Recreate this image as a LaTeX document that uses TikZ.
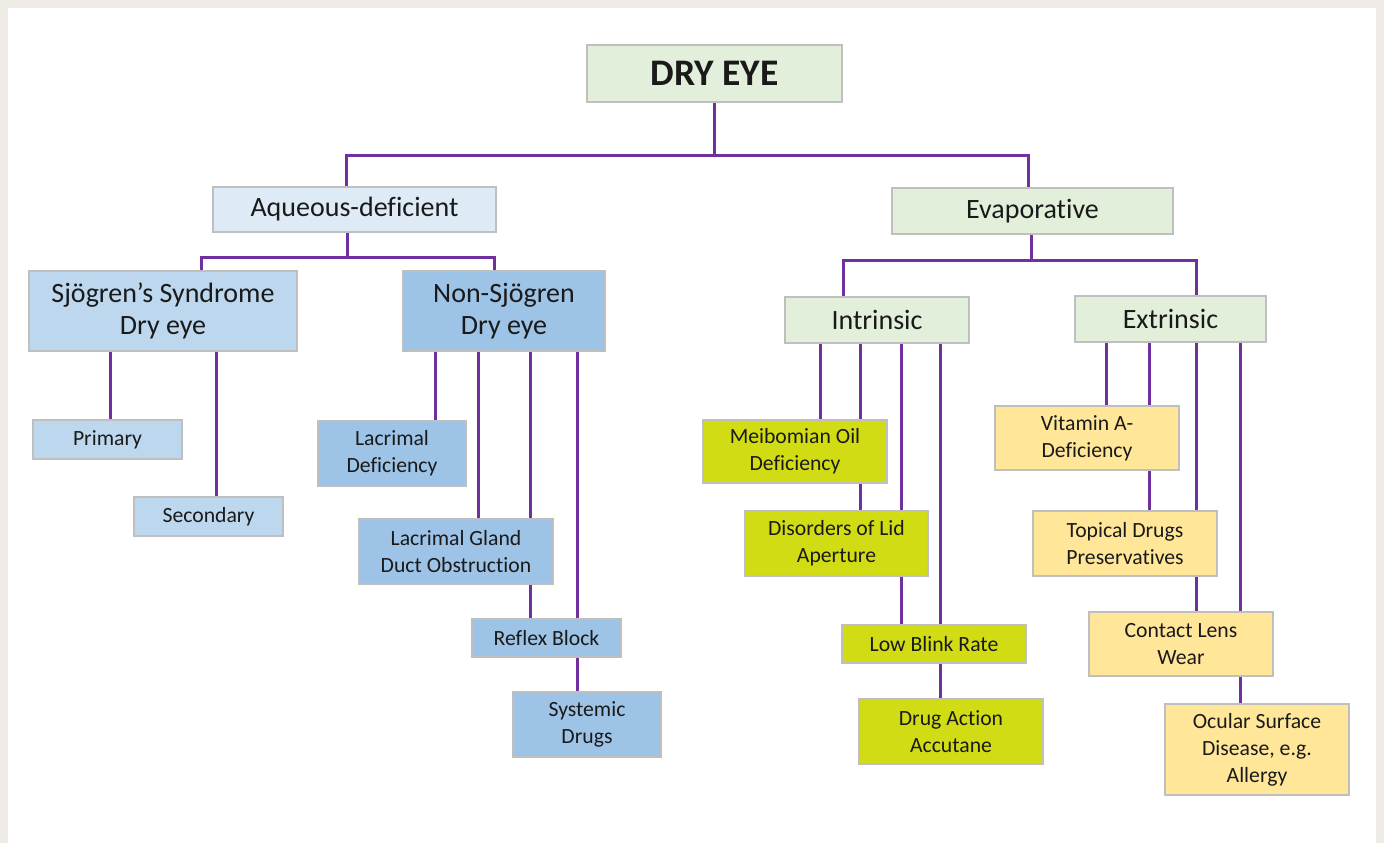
\documentclass[tikz,border=0pt]{standalone}
\usepackage{fontspec}
\setmainfont{Carlito}[Ligatures={NoCommon}]
\usepackage{tikz}
\usetikzlibrary{positioning,backgrounds}

\definecolor{framebg}{HTML}{EEEAE4}
\definecolor{boxline}{HTML}{BFBFBF}
\definecolor{linkpurple}{HTML}{7030A0}
\definecolor{palegreen}{HTML}{E2EFDA}
\definecolor{paleblue}{HTML}{DEEBF7}
\definecolor{midblue}{HTML}{BDD7EE}
\definecolor{deepblue}{HTML}{9DC3E6}
\definecolor{limefill}{HTML}{D2DC14}
\definecolor{peachfill}{HTML}{FFE699}
\definecolor{inkdark}{HTML}{1A1A1A}

\begin{document}
\begin{tikzpicture}[x=1pt,y=-1pt,
    box/.style={draw=boxline, line width=1.5pt, align=center, inner sep=0pt, text=inkdark},
    bigbox/.style={box, font=\fontsize{28}{32.5}\selectfont},
    leafbox/.style={box, font=\fontsize{21.7}{27}\selectfont},
    link/.style={draw=linkpurple, line width=3pt}]
                \useasboundingbox (0,0) rectangle (1384,843);

                \node [box, fill=palegreen, minimum width=255, minimum height=57, font=\fontsize{37.5}{42}\selectfont\bfseries] (dry) at (714.5,73.5) {DRY EYE};

                \node [bigbox, fill=paleblue,  minimum width=283, minimum height=45] (aq)     at (354.5,209.5) {Aqueous-deficient};
                \node [bigbox, fill=palegreen, minimum width=281, minimum height=46] (evap)   at (1032.5,211)  {Evaporative};
                \node [bigbox, fill=midblue,   minimum width=268, minimum height=80] (sjo)    at (163,311)     {Sjögren’s Syndrome\\Dry eye};
                \node [bigbox, fill=deepblue,  minimum width=202, minimum height=80] (nonsjo) at (504,311)     {Non-Sjögren\\Dry eye};
                \node [bigbox, fill=palegreen, minimum width=184, minimum height=46] (intr)   at (877,320)     {Intrinsic};
                \node [bigbox, fill=palegreen, minimum width=191, minimum height=46] (extr)   at (1170.5,319)  {Extrinsic};

                \node [leafbox, fill=midblue,  minimum width=149, minimum height=39] (prim)     at (107.5,439.5) {Primary};
                \node [leafbox, fill=midblue,  minimum width=149, minimum height=39] (sec)      at (208.5,516.5) {Secondary};
                \node [leafbox, fill=deepblue, minimum width=148, minimum height=65] (lacdef)   at (392,453.5)   {Lacrimal\\Deficiency};
                \node [leafbox, fill=deepblue, minimum width=194, minimum height=65] (lacgland) at (456,551.5)   {Lacrimal Gland\\Duct Obstruction};
                \node [leafbox, fill=deepblue, minimum width=149, minimum height=38] (reflex)   at (546.5,638)   {Reflex Block};
                \node [leafbox, fill=deepblue, minimum width=148, minimum height=65] (sysdrug)  at (587,724.5)   {Systemic\\Drugs};

                \node [leafbox, fill=limefill, minimum width=184, minimum height=63] (meib)   at (795,451.5) {Meibomian Oil\\Deficiency};
                \node [leafbox, fill=limefill, minimum width=183, minimum height=65] (lid)    at (836.5,543.5) {Disorders of Lid\\Aperture};
                \node [leafbox, fill=limefill, minimum width=184, minimum height=38] (blink)  at (934,644)   {Low Blink Rate};
                \node [leafbox, fill=limefill, minimum width=184, minimum height=65] (accut)  at (951,731.5) {Drug Action\\Accutane};

                \node [leafbox, fill=peachfill, minimum width=184, minimum height=64] (vita)   at (1087,438)    {Vitamin A-\\Deficiency};
                \node [leafbox, fill=peachfill, minimum width=184, minimum height=65] (topic)  at (1125,543.5)  {Topical Drugs\\Preservatives};
                \node [leafbox, fill=peachfill, minimum width=184, minimum height=64] (lens)   at (1181,644)    {Contact Lens\\Wear};
                \node [leafbox, fill=peachfill, minimum width=184, minimum height=91] (ocular) at (1257,749.5)  {Ocular Surface\\Disease, e.g.\\Allergy};

                \begin{scope}[on background layer]
                    \fill [framebg] (0,0) rectangle (1384,843);
                    \fill [white] (8,8) rectangle (1376,843);

                    \draw [link] (dry.south) -- ++(0,53) coordinate (hub);
                    \draw [link] (346,0 |- aq.north) |- (hub) -| (1028,0 |- evap.north);

                    \draw [link] (aq.south -| 347,0) -- ++(0,25) coordinate (aqhub);
                    \draw [link] (201,0 |- sjo.north) |- (aqhub) -| (494,0 |- nonsjo.north);

                    \draw [link] (evap.south -| 1031,0) -- ++(0,26) coordinate (evhub);
                    \draw [link] (843,0 |- intr.north) |- (evhub) -| (1196,0 |- extr.north);

                    \foreach \x/\leaf in {110/prim,216/sec}{%
                        \draw [link] (\x,0 |- sjo.south) -- (\x,0 |- \leaf.north);
                    }
                    \foreach \x/\leaf in {435/lacdef,478/lacgland,530/reflex,577/sysdrug}{%
                        \draw [link] (\x,0 |- nonsjo.south) -- (\x,0 |- \leaf.north);
                    }
                    \foreach \x/\leaf in {820/meib,860/lid,901/blink,940/accut}{%
                        \draw [link] (\x,0 |- intr.south) -- (\x,0 |- \leaf.north);
                    }
                    \foreach \x/\leaf in {1106/vita,1149/topic,1196/lens,1240/ocular}{%
                        \draw [link] (\x,0 |- extr.south) -- (\x,0 |- \leaf.north);
                    }
                \end{scope}
\end{tikzpicture}
\end{document}
